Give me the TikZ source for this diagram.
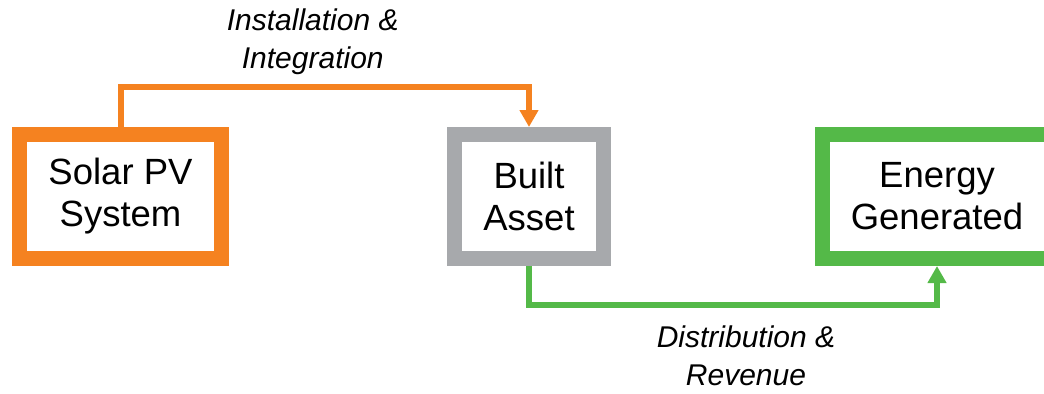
\documentclass[tikz,border=0pt]{standalone}
\usepackage{fontspec}
\setmainfont{Liberation Sans}
\usetikzlibrary{arrows.meta,positioning}
\definecolor{pvOrange}{RGB}{245, 130, 32}
\definecolor{pvGray}{RGB}{167, 169, 172}
\definecolor{pvGreen}{RGB}{84, 185, 72}

\begin{document}
\begin{tikzpicture}[
        stage/.style={rectangle, line width=7.5pt, fill=white, minimum height=62pt, align=center, font=\fontsize{18.25}{21}\selectfont},
        flow/.style={line width=3pt, -{Triangle[width=9pt,length=8.5pt]}},
        lbl/.style={align=center, inner sep=0pt, font=\fontsize{15}{19}\selectfont\itshape}
    ]
        \useasboundingbox (0,0) rectangle (522pt,-196.5pt);

        % Stages
        \node[stage, draw=pvOrange, minimum width=101pt] (solar) at (60.25pt,-98.25pt) {Solar PV\\System};
        \node[stage, draw=pvGray, minimum width=74.5pt, right=109pt of solar] (asset) {Built\\Asset};
        \node[stage, draw=pvGreen, minimum width=114.5pt, right=102pt of asset] (energy) {Energy\\Generated};

        % Arrows
        \draw[flow, pvOrange] (solar.north) -- ++(0,20pt) -| node[lbl, text=black, pos=0.25, above=4.5pt, xshift=-6pt] (install) {Installation \&\\Integration} (asset.north);
        \draw[flow, pvGreen] (asset.south) -- ++(0,-19.5pt) -| node[lbl, text=black, pos=0.25, below=9pt, xshift=6.5pt] (distrib) {Distribution \&\\Revenue} (energy.south);

    \end{tikzpicture}
\end{document}
